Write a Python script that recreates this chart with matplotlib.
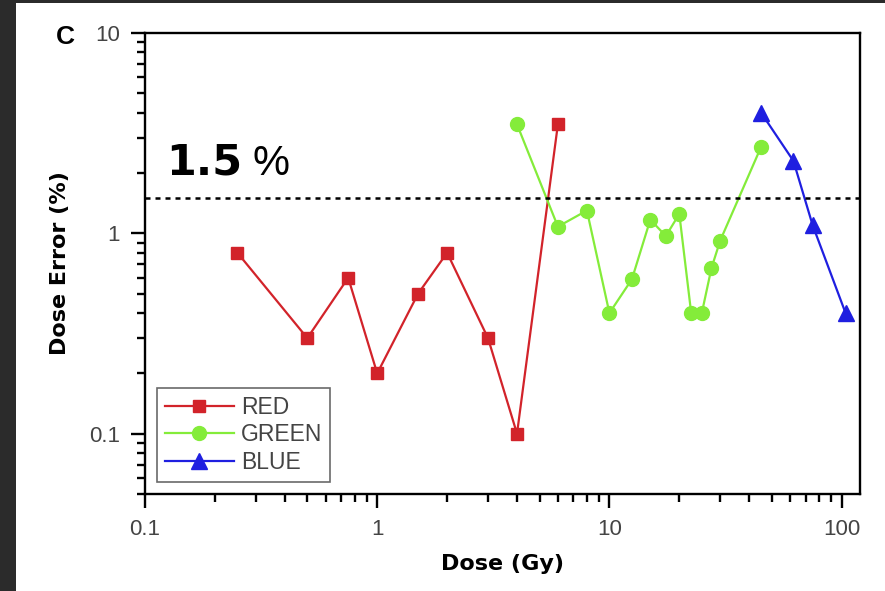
import matplotlib
matplotlib.use('Agg')
import matplotlib.pyplot as plt
from matplotlib.patches import Rectangle

# data
red_dose = [0.25, 0.5, 0.75, 1, 1.5, 2, 3, 4, 6]
red_err = [0.8, 0.3, 0.6, 0.2, 0.5, 0.8, 0.3, 0.1, 3.5]
green_dose = [4, 6, 8, 10, 12.5, 15, 17.5, 20, 22.5, 25, 27.5, 30, 45]
green_err = [3.5, 1.08, 1.3, 0.4, 0.59, 1.17, 0.97, 1.25, 0.4, 0.4, 0.67, 0.92, 2.7]
blue_dose = [45, 62, 75, 104]
blue_err = [4.0, 2.3, 1.1, 0.4]
limit = 1.5

plt.rcParams['font.family'] = ['Liberation Sans', 'DejaVu Sans']

fig = plt.figure(figsize=(8.85, 5.91), dpi=100)
fig.patch.set_facecolor('#2b2b2b')
fig.patches.append(Rectangle((16/885, 0), 1, 588/591, transform=fig.transFigure,
                             facecolor='white', edgecolor='none', zorder=-5))

ax = fig.add_axes([145/885, 97/591, 715/885, 461/591])
ax.set_zorder(2)
ax.set_xscale('log')
ax.set_yscale('log')
ax.set_xlim(0.1, 120)
ax.set_ylim(0.05, 10)

ax.plot(red_dose, red_err, color='#d2232a', marker='s', ms=9, lw=1.6, label='RED')
ax.plot(green_dose, green_err, color='#84ec3a', marker='o', ms=10, lw=1.6, label='GREEN')
ax.plot(blue_dose, blue_err, color='#1f1fe0', marker='^', ms=11, lw=1.6, label='BLUE')
ax.axhline(limit, color='black', lw=1.8, ls=(0, (2, 2)))

ax.text(0.030, 0.692, '1.5', transform=ax.transAxes, fontsize=31,
        fontweight='bold', family='DejaVu Sans', va='baseline')
ax.text(0.151, 0.692, '%', transform=ax.transAxes, fontsize=30, va='baseline')

for s in ax.spines.values():
    s.set_linewidth(1.7)
ax.tick_params(which='major', direction='out', length=10, width=1.7,
               labelsize=16, labelcolor='#444444', pad=8)
ax.tick_params(which='minor', direction='out', length=6, width=1.7)
ax.set_xticks([0.1, 1, 10, 100])
ax.set_xticklabels(['0.1', '1', '10', '100'])
ax.set_yticks([0.1, 1, 10])
ax.set_yticklabels(['0.1', '1', '10'])

ax.set_xlabel('Dose (Gy)', fontsize=16, fontweight='bold', family='DejaVu Sans', labelpad=10)
ax.set_ylabel('Dose Error (%)', fontsize=16, fontweight='bold', family='DejaVu Sans', labelpad=14)
fig.text(65/885, 1 - 37/591, 'C', fontsize=19, fontweight='bold', ha='center', va='center')

leg = ax.legend(loc='lower left', bbox_to_anchor=(12/715, 12/461), fontsize=16.5,
                fancybox=False, edgecolor='#444444', handlelength=3.0,
                borderaxespad=0, labelspacing=0.2, handletextpad=0.3,
                borderpad=0.35)
leg.get_frame().set_linewidth(1.2)
for t in leg.get_texts():
    t.set_color('#444444')

fig.savefig('out.png', dpi=100, facecolor=fig.get_facecolor())
